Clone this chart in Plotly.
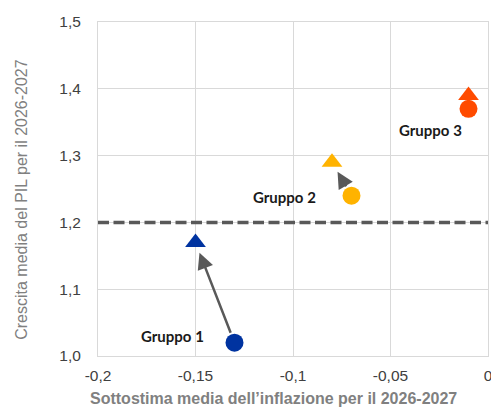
import plotly.graph_objects as go

groups = ["Gruppo 1", "Gruppo 2", "Gruppo 3"]
colors = ["#0033A0", "#FFB300", "#FF4B00"]
infl_before = [-0.13, -0.07, -0.01]
gdp_before = [1.02, 1.24, 1.37]
infl_after = [-0.15, -0.08, -0.01]
gdp_after = [1.17, 1.29, 1.39]
label_x = [-0.162, -0.1045, -0.0294]
label_y = [1.03, 1.238, 1.3385]
threshold = 1.2

x_ticks = [-0.2, -0.15, -0.1, -0.05, 0]
x_ticktext = ["-0,2", "-0,15", "-0,1", "-0,05", "0"]
y_ticks = [1.0, 1.1, 1.2, 1.3, 1.4, 1.5]
y_ticktext = ["1,0", "1,1", "1,2", "1,3", "1,4", "1,5"]
x_title = "Sottostima media dell\u2019inflazione per il 2026-2027"
y_title = "Crescita media del PIL per il 2026-2027"

fig = go.Figure()

# threshold dashed line
fig.add_trace(go.Scatter(
    x=[x_ticks[0], x_ticks[-1]], y=[threshold, threshold], mode="lines",
    line=dict(color="#595959", width=3.5, dash="11px,4.5px"),
    hoverinfo="skip", showlegend=False, cliponaxis=False))

for i, g in enumerate(groups):
    fig.add_trace(go.Scatter(
        x=[infl_before[i]], y=[gdp_before[i]], mode="markers",
        marker=dict(symbol="circle", size=18, color=colors[i]),
        showlegend=False, name=g, cliponaxis=False))
    fig.add_trace(go.Scatter(
        x=[infl_after[i]], y=[gdp_after[i]], mode="markers",
        marker=dict(symbol="triangle-up", size=18, color=colors[i]),
        showlegend=False, name=g, cliponaxis=False))

annotations = []
for i, g in enumerate(groups[:2]):
    annotations.append(dict(
        x=infl_after[i], y=gdp_after[i], ax=infl_before[i], ay=gdp_before[i],
        xref="x", yref="y", axref="x", ayref="y", text="",
        showarrow=True, arrowhead=2, arrowsize=1.3, arrowwidth=2.5,
        arrowcolor="#595959", standoff=11, startstandoff=9))
for i, g in enumerate(groups):
    annotations.append(dict(
        x=label_x[i], y=label_y[i], xref="x", yref="y", text="<b>" + g + "</b>",
        showarrow=False, font=dict(family="Lato, Liberation Sans, Arial", size=15, color="#1a1a1a")))

# axis titles
annotations.append(dict(
    x=0.451, y=-0.126, xref="paper", yref="paper", xanchor="center", yanchor="middle",
    text="<b>" + x_title + "</b>", showarrow=False,
    font=dict(family="Liberation Sans, Arial", size=16, color="#808080")))
annotations.append(dict(
    x=-0.198, y=0.47, xref="paper", yref="paper", xanchor="center", yanchor="middle",
    text=y_title, textangle=-90, showarrow=False,
    font=dict(family="Liberation Sans, Arial", size=16, color="#808080")))

fig.update_layout(
    width=491, height=410,
    margin=dict(l=98, r=3, t=22, b=54),
    paper_bgcolor="white", plot_bgcolor="white",
    annotations=annotations,
    font=dict(family="Liberation Sans, Arial", size=15, color="#404040"),
)
fig.update_xaxes(
    range=[-0.2, 0], tickvals=x_ticks, ticktext=x_ticktext, automargin=False,
    showgrid=True, gridcolor="#d9d9d9", gridwidth=1, zeroline=False,
    showline=True, mirror=True, linecolor="#d9d9d9", linewidth=1,
    ticks="", ticklabelstandoff=5, ticklabeloverflow="allow",
    tickfont=dict(size=15.5, color="#404040"))
fig.update_yaxes(
    range=[1.0, 1.5], tickvals=y_ticks, ticktext=y_ticktext, automargin=False,
    showgrid=True, gridcolor="#d9d9d9", gridwidth=1, zeroline=False,
    showline=True, mirror=True, linecolor="#d9d9d9", linewidth=1,
    ticks="", ticklabelstandoff=13, ticklabeloverflow="allow",
    tickfont=dict(size=15.5, color="#404040"))

fig.write_html(
    "out.html",
    config={"displayModeBar": False},
    post_script="document.body.style.margin='0';document.body.style.overflow='hidden';",
)
